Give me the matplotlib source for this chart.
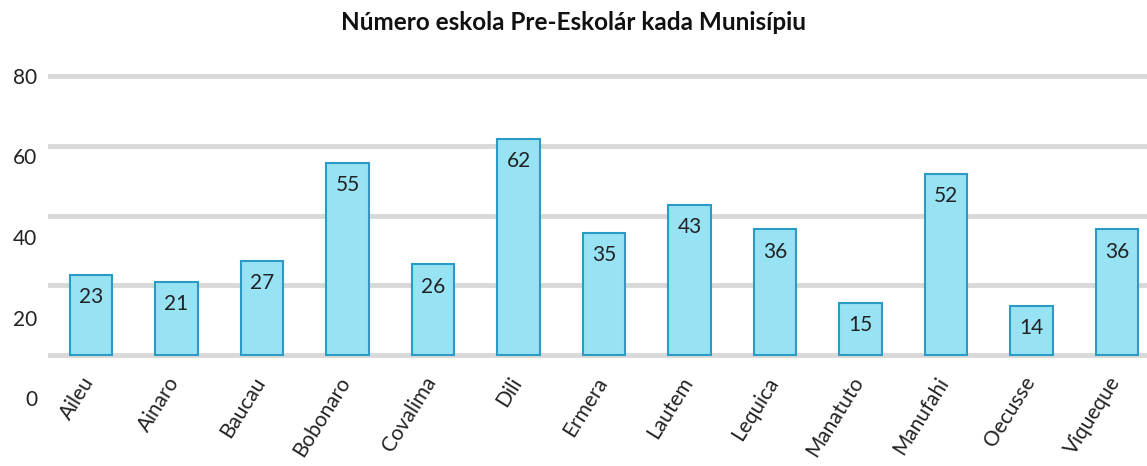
import matplotlib
matplotlib.use("Agg")
import matplotlib.pyplot as plt

categories = ["Aileu", "Ainaro", "Baucau", "Bobonaro", "Covalima", "Dili", "Ermera",
              "Lautem", "Lequica", "Manatuto", "Manufahi", "Oecusse", "Viqueque"]
values = [23, 21, 27, 55, 26, 62, 35, 43, 36, 15, 52, 14, 36]
grid_values = [0, 20, 40, 60, 80]
ytick_labels = ["0", "20", "40", "60", "80"]
title = "Número eskola Pre-Eskolár kada Munisípiu"

plt.rcParams['font.family'] = ['Lato', 'DejaVu Sans']

W, H = 1147, 466
fig = plt.figure(figsize=(W / 100, H / 100), dpi=100)

# layout in pixels
x_left, x_right = 48, 1147
y0_px, y80_px = 355, 76
ppu = (y0_px - y80_px) / 80.0
ylo, yhi = -1.5, 81.5
ax_bottom_px = y0_px - ylo * ppu
ax_top_px = y0_px - yhi * ppu
ax = fig.add_axes([x_left / W, 1 - ax_bottom_px / H, (x_right - x_left) / W,
                   (ax_bottom_px - ax_top_px) / H])

spacing = (1117 - 91) / 12.0
xlo = -(91 - x_left) / spacing
xhi = (x_right - 91) / spacing
ax.set_xlim(xlo, xhi)
ax.set_ylim(ylo, yhi)

for g in grid_values:
    ax.axhline(g, color="#D9D9D9", lw=3.5, zorder=0)

x = list(range(len(categories)))
bars = ax.bar(x, values, width=0.5, color="#97E3F4", edgecolor="#2A9BC4",
              linewidth=1.5, zorder=2)

for xi, v in zip(x, values):
    ax.annotate(str(v), (xi, v), xytext=(0, -16), textcoords="offset points",
                ha="center", va="center", fontsize=15, color="#222222", zorder=3)

for s in ax.spines.values():
    s.set_visible(False)
ax.set_yticks([])
ax.set_xticks([])

# category labels
for xi, c in zip(x, categories):
    ax.annotate(c, (xi, 0), xytext=(-1, -17), textcoords="offset points",
                ha="right", va="center", rotation=58, rotation_mode="anchor",
                fontsize=15, color="#222222", annotation_clip=False)

# y labels (as drawn in the reference, evenly spread)
label_top_px, label_bottom_px = 78, 400
n = len(ytick_labels)
for i, lab in enumerate(ytick_labels):
    py = label_bottom_px - i * (label_bottom_px - label_top_px) / (n - 1)
    fig.text(37 / W, 1 - py / H, lab, ha="right", va="center", fontsize=15,
             color="#222222")

fig.text(0.5, 1 - 22 / H, title, ha="center", va="center", fontsize=17.5,
         fontweight="bold", color="#111111")

fig.savefig("out.png", dpi=100)
